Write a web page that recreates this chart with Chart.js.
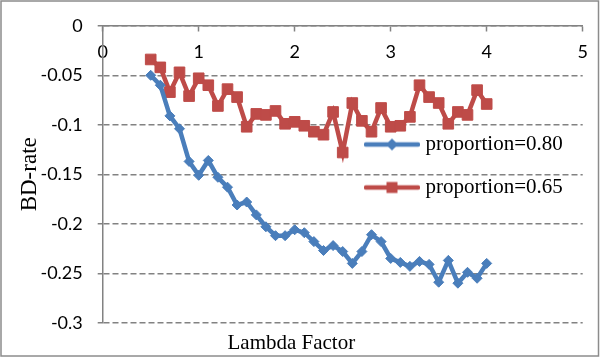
<!DOCTYPE html>
<html><head><meta charset="utf-8">
<script src="https://cdn.jsdelivr.net/npm/chart.js@4/dist/chart.umd.min.js"></script>
<style>html,body{margin:0;padding:0;background:#fff;}#wrap{width:600px;height:358px;}</style>
</head><body><div id="wrap"><canvas id="c" width="600" height="358"></canvas></div>
<script>
const lambdaFactor = [0.5,0.6,0.7,0.8,0.9,1.0,1.1,1.2,1.3,1.4,1.5,1.6,1.7,1.8,1.9,2.0,2.1,2.2,2.3,2.4,2.5,2.6,2.7,2.8,2.9,3.0,3.1,3.2,3.3,3.4,3.5,3.6,3.7,3.8,3.9,4.0];
const prop080 = [-0.050,-0.060,-0.091,-0.104,-0.137,-0.151,-0.136,-0.153,-0.163,-0.181,-0.178,-0.191,-0.203,-0.212,-0.212,-0.206,-0.209,-0.218,-0.227,-0.222,-0.228,-0.240,-0.228,-0.211,-0.218,-0.235,-0.239,-0.243,-0.238,-0.241,-0.259,-0.237,-0.260,-0.249,-0.255,-0.240];
const prop065 = [-0.034,-0.042,-0.067,-0.047,-0.071,-0.053,-0.060,-0.081,-0.064,-0.072,-0.102,-0.089,-0.090,-0.086,-0.099,-0.097,-0.101,-0.107,-0.110,-0.087,-0.128,-0.078,-0.096,-0.107,-0.083,-0.102,-0.101,-0.092,-0.060,-0.072,-0.078,-0.099,-0.087,-0.090,-0.065,-0.079];
const seriesNames = ['proportion=0.80','proportion=0.65'];
const seriesColors = ['#4a7ebb','#be4b48'];
const xTitle = 'Lambda Factor';
const yTitle = 'BD-rate';

const GRID = '#828282';
const DASH = [6,3];
function makeIcon(color, shape){
  const cv = document.createElement('canvas'); cv.width = 56; cv.height = 14;
  const g = cv.getContext('2d');
  g.strokeStyle = color; g.lineWidth = 4.5; g.lineCap = 'round';
  g.beginPath(); g.moveTo(2,7); g.lineTo(54,7); g.stroke();
  g.fillStyle = color; g.beginPath();
  if (shape === 'diamond') { g.moveTo(28,1); g.lineTo(34,7); g.lineTo(28,13); g.lineTo(22,7); g.closePath(); }
  else { g.rect(22.5,1.5,11,11); }
  g.fill();
  return cv;
}
const legendIcons = [makeIcon(seriesColors[0],'diamond'), makeIcon(seriesColors[1],'square')];

const framePlugin = { id:'frame', beforeDraw(chart){
  const c = chart.ctx; c.save(); c.fillStyle='#fff'; c.fillRect(0,0,chart.width,chart.height);
  c.strokeStyle='#8c8c8c'; c.lineWidth=1.5; c.strokeRect(1,1,chart.width-2.5,chart.height-3); c.restore(); } };
const legendPlace = { id:'legendPlace', afterLayout(chart){
  const lg = chart.legend; if(!lg) return;
  lg.left = 347; lg.top = 112; lg.right = lg.left + 260; lg.bottom = lg.top + 200; } };

new Chart(document.getElementById('c'), {
  type: 'line',
  data: { datasets: [
    { label: seriesNames[0], data: lambdaFactor.map((x,i)=>({x, y: prop080[i]})), borderColor: seriesColors[0], backgroundColor: seriesColors[0],
      borderWidth: 4.5, pointStyle: 'rectRot', pointRadius: 5, pointBorderWidth: 1, tension: 0 },
    { label: seriesNames[1], data: lambdaFactor.map((x,i)=>({x, y: prop065[i]})), borderColor: seriesColors[1], backgroundColor: seriesColors[1],
      borderWidth: 4.5, pointStyle: 'rect', pointRadius: 7.5, pointBorderWidth: 1, tension: 0 }
  ]},
  options: {
    responsive: false, animation: false, devicePixelRatio: 1,
    layout: { padding: { top: 13.3, left: 0, right: 17.3, bottom: 1 } },
    plugins: {
      tooltip: { enabled: false },
      title: { display: true, position: 'bottom', text: xTitle, color: '#000',
        font: { family: 'Liberation Serif', size: 21, weight: 'normal' }, padding: { top: 8, bottom: 1 } },
      legend: { position: 'chartArea', align: 'start',
        labels: { usePointStyle: true, pointStyleWidth: 46, padding: 22, color: '#000',
          font: { family: 'Liberation Serif', size: 21 },
          generateLabels(chart){ const items = Chart.defaults.plugins.legend.labels.generateLabels(chart);
            items.forEach((it,i)=>{ it.pointStyle = legendIcons[i]; }); return items; } } }
    },
    scales: {
      x: { type: 'linear', position: { y: 0 }, min: 0, max: 5,
        ticks: { stepSize: 1, color: '#000', padding: 11, font: { family: 'Lato', size: 18 } },
        grid: { drawOnChartArea: false, drawTicks: true, tickLength: 5, tickColor: GRID, tickWidth: 1.5 },
        border: { display: true, color: GRID, width: 1.5 },
        afterFit(s){ s.height = 11.8; } },
      y: { type: 'linear', position: 'left', min: -0.3, max: 0,
        ticks: { stepSize: 0.05, color: '#000', padding: 15, font: { family: 'Lato', size: 18 },
          callback: v => String(Math.round(v*100)/100) },
        grid: { color: GRID, lineWidth: 1.5, tickLength: 5, tickColor: GRID, tickWidth: 1.5 },
        border: { display: true, color: GRID, width: 1.5, dash: DASH },
        title: { display: true, text: yTitle, color: '#000', font: { family: 'Liberation Serif', size: 23 }, padding: { top: 16, bottom: 0 } },
        afterFit(s){ s.width = 102.7; } }
    }
  },
  plugins: [framePlugin, legendPlace]
});
</script></body></html>
